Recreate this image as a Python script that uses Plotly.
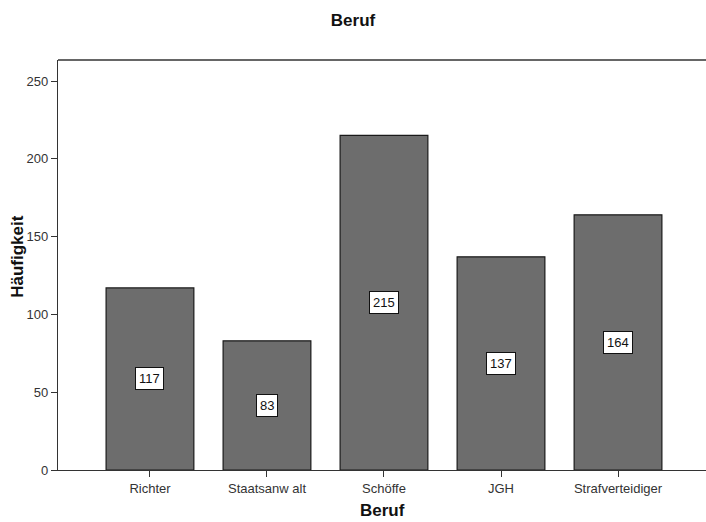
import plotly.graph_objects as go

categories = ["Richter", "Staatsanwalt", "Schöffe", "JGH", "Strafverteidiger"]
tick_labels = ["Richter", "Staatsanw alt", "Schöffe", "JGH", "Strafverteidiger"]
counts = [117, 83, 215, 137, 164]
y_ticks = [0, 50, 100, 150, 200, 250]

font_family = "Liberation Sans, Arial, sans-serif"

fig = go.Figure()
fig.add_trace(go.Bar(
    x=list(range(len(categories))),
    y=counts,
    width=0.75,
    marker=dict(color="#6d6d6d", line=dict(color="#1a1a1a", width=1.2)),
    hoverinfo="skip",
))

for i, v in enumerate(counts):
    fig.add_annotation(
        x=i, y=v / 2, text=str(v), showarrow=False,
        font=dict(family=font_family, size=13, color="#111"),
        bgcolor="white", bordercolor="#111", borderwidth=1, borderpad=3,
    )

# axis titles
fig.add_annotation(text="<b>Beruf</b>", xref="paper", yref="paper", x=0.5, y=0,
                   yshift=-40, yanchor="middle", showarrow=False,
                   font=dict(family=font_family, size=17, color="#111"))
fig.add_annotation(text="<b>Häufigkeit</b>", xref="paper", yref="paper", x=0, y=0.52,
                   xshift=-40, xanchor="center", textangle=-90, showarrow=False,
                   font=dict(family=font_family, size=17, color="#111"))

fig.add_shape(type="line", xref="paper", yref="paper", x0=0, x1=1, y0=1, y1=1,
              line=dict(color="#333", width=1.5))

fig.update_layout(
    width=706, height=522,
    margin=dict(l=58, r=0, t=60, b=52, autoexpand=False),
    paper_bgcolor="white", plot_bgcolor="white",
    showlegend=False,
    title=dict(text="<b>Beruf</b>", x=0.5, xanchor="center", y=0.962, yanchor="middle",
               font=dict(family=font_family, size=17, color="#111")),
    font=dict(family=font_family, color="#333"),
)
fig.update_xaxes(
    range=[-0.786, 4.752], automargin=False,
    tickmode="array", tickvals=list(range(len(categories))), ticktext=tick_labels,
    ticks="outside", ticklen=6, tickcolor="#333",
    showline=True, linecolor="#333", linewidth=1.2,
    showgrid=False, zeroline=False,
    tickfont=dict(size=13, color="#333"),
)
fig.update_yaxes(
    range=[0, 263.5], automargin=False,
    tickmode="array", tickvals=y_ticks,
    ticks="outside", ticklen=6, tickcolor="#333",
    showline=True, linecolor="#333", linewidth=1.2,
    showgrid=False, zeroline=False,
    tickfont=dict(size=13, color="#333"),
)

fig.write_html("out.html", config={"displayModeBar": False},
               post_script="document.body.style.margin='0';document.body.style.overflow='hidden';")
